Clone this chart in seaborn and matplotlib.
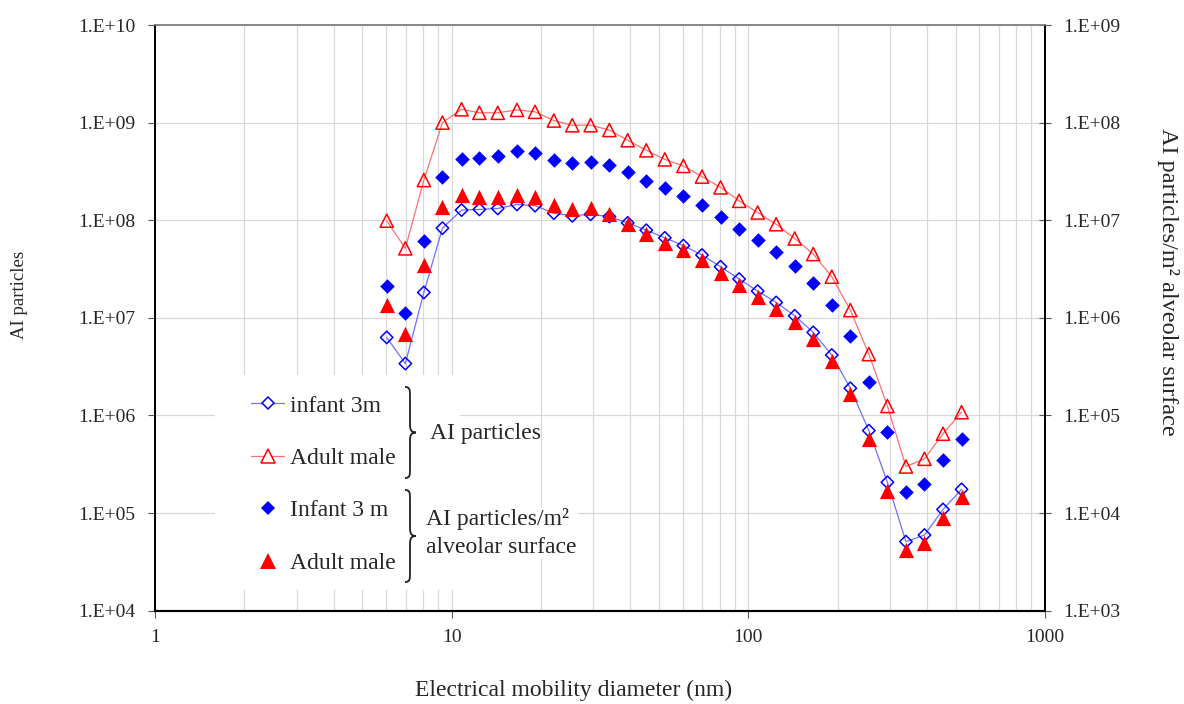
import numpy as np
import pandas as pd
import matplotlib
matplotlib.use("Agg")
import matplotlib.pyplot as plt
import seaborn as sns
from matplotlib.lines import Line2D
from matplotlib.patches import Rectangle, PathPatch
from matplotlib.path import Path
from matplotlib.ticker import FuncFormatter, LogLocator, NullLocator, FixedLocator

# ---------------- data ----------------
diameter_nm = [6.04, 6.98, 8.06, 9.31, 10.8, 12.4, 14.3, 16.6, 19.1, 22.1, 25.5, 29.4,
               34.0, 39.2, 45.3, 52.3, 60.4, 69.8, 80.6, 93.1, 107.5, 124.1, 143.3,
               165.5, 191.1, 220.7, 254.8, 294.3, 339.8, 392.4, 453.1, 523.3]

infant_ai = [6.3e6, 3.4e6, 1.82e7, 8.3e7, 1.27e8, 1.29e8, 1.32e8, 1.45e8, 1.41e8, 1.18e8,
             1.11e8, 1.15e8, 1.09e8, 9.4e7, 7.9e7, 6.6e7, 5.5e7, 4.4e7, 3.34e7, 2.5e7,
             1.88e7, 1.44e7, 1.05e7, 7.1e6, 4.16e6, 1.9e6, 7.0e5, 2.07e5, 5.1e4, 5.96e4,
             1.09e5, 1.75e5]

adult_ai = [9.9e7, 5.15e7, 2.58e8, 1.0e9, 1.37e9, 1.26e9, 1.26e9, 1.35e9, 1.29e9, 1.05e9,
            9.4e8, 9.4e8, 8.4e8, 6.6e8, 5.2e8, 4.2e8, 3.6e8, 2.8e8, 2.17e8, 1.58e8,
            1.2e8, 9.1e7, 6.5e7, 4.5e7, 2.64e7, 1.2e7, 4.25e6, 1.25e6, 3.0e5, 3.6e5,
            6.5e5, 1.08e6]

infant_surface = [2.1e6, 1.13e6, 6.1e6, 2.75e7, 4.24e7, 4.37e7, 4.55e7, 5.1e7, 4.9e7, 4.1e7,
                  3.9e7, 3.97e7, 3.7e7, 3.1e7, 2.54e7, 2.12e7, 1.78e7, 1.43e7, 1.09e7, 8.1e6,
                  6.2e6, 4.7e6, 3.4e6, 2.3e6, 1.35e6, 6.5e5, 2.2e5, 6.7e4, 1.65e4, 1.97e4,
                  3.5e4, 5.7e4]

adult_surface = [1.35e6, 6.9e5, 3.5e6, 1.36e7, 1.81e7, 1.73e7, 1.72e7, 1.8e7, 1.73e7, 1.43e7,
                 1.29e7, 1.32e7, 1.15e7, 9.1e6, 7.2e6, 5.8e6, 4.9e6, 3.9e6, 2.88e6, 2.17e6,
                 1.64e6, 1.23e6, 9.0e5, 6.1e5, 3.6e5, 1.64e5, 5.8e4, 1.7e4, 4.15e3, 4.9e3,
                 9.0e3, 1.46e4]

x_ticks = [1, 10, 100, 1000]
x_tick_labels = ["1", "10", "100", "1000"]
left_y_ticks = [1e4, 1e5, 1e6, 1e7, 1e8, 1e9, 1e10]
right_y_ticks = [1e3, 1e4, 1e5, 1e6, 1e7, 1e8, 1e9]

legend_labels = ["infant 3m", "Adult male", "Infant 3 m", "Adult male"]
group_labels = ["AI particles", "AI particles/m\u00b2\nalveolar surface"]

df = pd.DataFrame({"d": diameter_nm, "infant_ai": infant_ai, "adult_ai": adult_ai,
                   "infant_surf": infant_surface, "adult_surf": adult_surface})

# ---------------- style ----------------
sns.set_theme(style="white")
plt.rcParams['font.family'] = ['Liberation Serif', 'DejaVu Sans']
plt.rcParams['axes.unicode_minus'] = False

W, H = 1184, 704
fig = plt.figure(figsize=(W / 100, H / 100), dpi=100)
ax = fig.add_axes([155 / W, 1 - 610.7 / H, 890 / W, 585.7 / H])
ax2 = ax.twinx()

BLUE = "#0000FF"
RED = "#FF0000"
BLUE_L = "#7070FF"
RED_L = "#FF7070"

ax.set_xscale("log")
ax.set_yscale("log")
ax2.set_yscale("log")

# lines (left axis)
sns.lineplot(data=df, x="d", y="infant_ai", ax=ax, color=BLUE_L, linewidth=0.9, zorder=3)
sns.lineplot(data=df, x="d", y="adult_ai", ax=ax, color=RED_L, linewidth=0.9, zorder=3)
# open markers (left axis)
sns.scatterplot(data=df, x="d", y="infant_ai", ax=ax, marker="D", s=40,
                facecolor="none", edgecolor=BLUE, linewidth=1.1, zorder=4)
sns.scatterplot(data=df, x="d", y="adult_ai", ax=ax, marker="^", s=90,
                facecolor="none", edgecolor=RED, linewidth=1.1, zorder=4)
# filled markers (right axis)
sns.scatterplot(data=df, x="d", y="infant_surf", ax=ax2, marker="D", s=55,
                color=BLUE, linewidth=0, zorder=4)
sns.scatterplot(data=df, x="d", y="adult_surf", ax=ax2, marker="^", s=120,
                color=RED, linewidth=0, zorder=4)

ax.set_xlim(1, 1000)
ax.set_ylim(1e4, 1e10)
ax2.set_ylim(1e3, 1e9)

def sci_fmt(v, pos=None):
    e = int(round(np.log10(v)))
    return "1.E+%02d" % e

def x_fmt(v, pos=None):
    r = int(round(v))
    return x_tick_labels[x_ticks.index(r)] if r in x_ticks else ""

ax.xaxis.set_major_locator(FixedLocator(x_ticks))
ax.xaxis.set_major_formatter(FuncFormatter(x_fmt))
ax.xaxis.set_minor_locator(LogLocator(base=10, subs=np.arange(2, 10)))
ax.xaxis.set_minor_formatter(FuncFormatter(lambda v, p: ""))

ax.yaxis.set_major_locator(FixedLocator(left_y_ticks))
ax.yaxis.set_major_formatter(FuncFormatter(sci_fmt))
ax.yaxis.set_minor_locator(NullLocator())
ax2.yaxis.set_major_locator(FixedLocator(right_y_ticks))
ax2.yaxis.set_major_formatter(FuncFormatter(sci_fmt))
ax2.yaxis.set_minor_locator(NullLocator())

ax.grid(True, which="major", axis="both", color="#d9d9d9", linewidth=0.9)
ax.grid(True, which="minor", axis="x", color="#d9d9d9", linewidth=0.9)
ax.set_axisbelow(True)
ax2.grid(False)

ax.tick_params(axis="y", which="major", direction="out", length=5, width=0.8,
               color="#555555", labelsize=14, pad=9, left=True)
ax.tick_params(axis="x", which="major", direction="out", length=5, width=0.8,
               color="#555555", labelsize=14, pad=8, bottom=True)
ax.tick_params(axis="x", which="minor", length=0)
ax2.tick_params(axis="y", which="major", direction="inout", length=8, width=0.8,
                color="#555555", labelsize=14, pad=9, right=True)

for a in (ax, ax2):
    a.spines["left"].set_color("black")
    a.spines["left"].set_linewidth(1.3)
    a.spines["bottom"].set_color("black")
    a.spines["bottom"].set_linewidth(1.5)
    a.spines["right"].set_color("black")
    a.spines["right"].set_linewidth(1.3)
    a.spines["top"].set_color("#888888")
    a.spines["top"].set_linewidth(1.2)
    for s in a.spines.values():
        s.set_visible(True)

ax.set_xlabel("Electrical mobility diameter (nm)", fontsize=17)
ax.set_ylabel("AI particles", fontsize=13.5)
ax2.set_ylabel("AI particles/m\u00b2 alveolar surface", fontsize=17.5, rotation=-90)
ax.xaxis.set_label_coords((574 - 155) / 890, (610.7 - 690) / 585.7)
ax.yaxis.set_label_coords((20 - 155) / 890, (610.7 - 295) / 585.7)
ax2.yaxis.set_label_coords((1168 - 155) / 890, (610.7 - 282) / 585.7)
ax.xaxis.label.set_va("center")
ax.yaxis.label.set_va("center")
ax2.yaxis.label.set_va("center")

# ---------------- legend ----------------
def fx(px):
    return px / W

def fy(py):
    return 1 - py / H

fig.patches.append(Rectangle((fx(215), fy(590)), fx(460) - fx(215), fy(375) - fy(590),
                             transform=fig.transFigure, facecolor="white",
                             edgecolor="none", zorder=4))

handles = [
    Line2D([], [], color=BLUE_L, lw=0.9, marker="D", markersize=6.3,
           markerfacecolor="white", markeredgecolor=BLUE, markeredgewidth=1.1),
    Line2D([], [], color=RED_L, lw=0.9, marker="^", markersize=9.5,
           markerfacecolor="white", markeredgecolor=RED, markeredgewidth=1.1),
    Line2D([], [], color="none", lw=0, marker="D", markersize=7.4,
           markerfacecolor=BLUE, markeredgewidth=0),
    Line2D([], [], color="none", lw=0, marker="^", markersize=11,
           markerfacecolor=RED, markeredgewidth=0),
]
leg = fig.legend(handles, legend_labels, loc="upper left",
                 bbox_to_anchor=(fx(251), fy(395)), bbox_transform=fig.transFigure,
                 frameon=False, fontsize=17, handlelength=1.4, handletextpad=0.25,
                 labelspacing=1.31, borderpad=0, borderaxespad=0)
leg.set_zorder(5)


def brace(x0, yt, yb):
    xm = x0 + 5
    xt = x0 + 11
    ym = (yt + yb) / 2
    pts = [(x0, yt), (xm, yt), (xm, yt + 3), (xm, yt + 9),
           (xm, ym - 8),
           (xm, ym - 3), (xm + 1, ym), (xt, ym),
           (xm + 1, ym), (xm, ym + 3), (xm, ym + 8),
           (xm, yb - 9),
           (xm, yb - 3), (xm, yb), (x0, yb)]
    codes = [Path.MOVETO, Path.CURVE4, Path.CURVE4, Path.CURVE4,
             Path.LINETO,
             Path.CURVE4, Path.CURVE4, Path.CURVE4,
             Path.CURVE4, Path.CURVE4, Path.CURVE4,
             Path.LINETO,
             Path.CURVE4, Path.CURVE4, Path.CURVE4]
    verts = [(fx(px), fy(py)) for px, py in pts]
    fig.patches.append(PathPatch(Path(verts, codes), transform=fig.transFigure,
                                 facecolor="none", edgecolor="#222222", lw=1.3, zorder=6))

brace(405, 387, 478)
brace(405, 490, 582)

fig.text(fx(430), fy(434), group_labels[0], fontsize=17, ha="left", va="center", zorder=6)
fig.text(fx(426), fy(533), group_labels[1], fontsize=17, ha="left", va="center",
         linespacing=1.42, zorder=6,
         bbox=dict(facecolor="white", edgecolor="none", pad=1))

fig.savefig("out.png", dpi=100)
